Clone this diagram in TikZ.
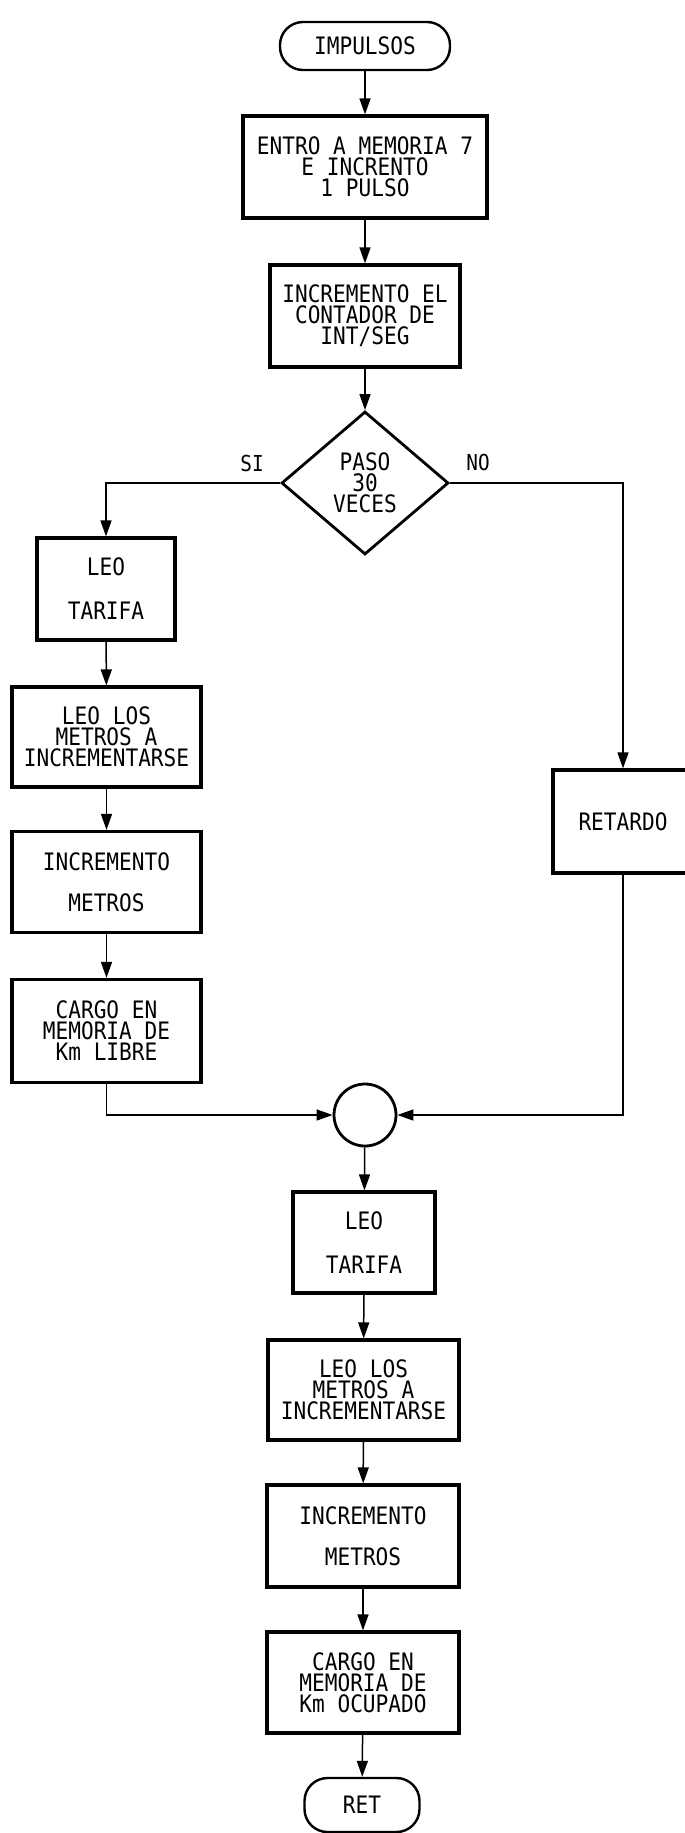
\documentclass[tikz,border=0pt]{standalone}
\usepackage{fontspec}
\newfontfamily\plotfont[FakeStretch=0.88]{DejaVu Sans Mono}
\usetikzlibrary{shapes.geometric,arrows.meta}
\begin{document}
\begin{tikzpicture}[x=1pt,y=-1pt,
  every node/.style={font=\plotfont\fontsize{24}{21}\selectfont, align=center, inner sep=0pt},
  procbox/.style={draw, line width=3.2pt, rectangle, minimum width=#1, minimum height=102pt},
  procbox/.default=190pt,
  termbox/.style={draw, line width=2.4pt, rectangle, rounded corners=23pt},
  decbox/.style={draw, line width=2.8pt, diamond, minimum width=167pt, minimum height=143pt},
  joinbox/.style={draw, line width=2.8pt, circle, minimum size=62pt},
  arr/.style={line width=1.5pt, -{Triangle[length=16pt,width=11pt]}},
  lbl/.style={font=\plotfont\fontsize{22}{20}\selectfont}
]
\useasboundingbox (0,0) rectangle (685,1833);
\fill[white] (0,0) rectangle (685,1833);

% main column top
\node[termbox, minimum width=170pt, minimum height=48pt] (start) at (365,46) {IMPULSOS};
\node[procbox=244pt] (b1) at (365,167) {ENTRO A MEMORIA 7\\E INCRENTO\\1 PULSO};
\node[procbox=190pt] (b2) at (365,316) {INCREMENTO EL\\CONTADOR DE\\INT/SEG};
\node[decbox] (dec) at (365,483) {PASO\\30\\VECES};

\node[lbl] (si) at (252,463) {SI};
\node[lbl] (no) at (478,462) {NO};

% left branch
\node[procbox=138pt] (l1) at (106,589) {LEO\\[23pt]TARIFA};
\node[procbox=189pt, minimum height=100pt] (l2) at (106.5,737) {LEO LOS\\METROS A\\INCREMENTARSE};
\node[procbox=189pt, minimum height=101pt] (l3) at (106.5,882) {INCREMENTO\\[20pt]METROS};
\node[procbox=189pt, minimum height=103pt] (l4) at (106.5,1031) {CARGO EN\\MEMORIA DE\\Km LIBRE};

% right branch
\node[procbox=140pt, minimum height=103pt] (ret) at (623,821.5) {RETARDO};

% join
\node[joinbox] (join) at (365,1115) {};

% lower column
\node[procbox=142pt, minimum height=101pt] (m1) at (364,1242.5) {LEO\\[23pt]TARIFA};
\node[procbox=191pt, minimum height=100pt] (m2) at (363.5,1390) {LEO LOS\\METROS A\\INCREMENTARSE};
\node[procbox=192pt, minimum height=102pt] (m3) at (363,1536) {INCREMENTO\\[20pt]METROS};
\node[procbox=192pt, minimum height=101pt] (m4) at (363,1682.5) {CARGO EN\\MEMORIA DE\\Km OCUPADO};
\node[termbox, minimum width=115pt, minimum height=54pt] (stop) at (362,1805) {RET};

% connectors
\draw[arr] (start) -- (b1);
\draw[arr] (b1) -- (b2);
\draw[arr] (b2) -- (dec);
\draw[arr] (dec.west) -| (l1.north);
\draw[arr] (dec.east) -| (ret.north);
\draw[arr] (l1) -- (l2);
\draw[arr] (l2) -- (l3);
\draw[arr] (l3) -- (l4);
\draw[arr] (l4.south) |- (join.west);
\draw[arr] (ret.south) |- (join.east);
\draw[arr] (join) -- (m1);
\draw[arr] (m1) -- (m2);
\draw[arr] (m2) -- (m3);
\draw[arr] (m3) -- (m4);
\draw[arr] (m4) -- (stop);
\end{tikzpicture}
\end{document}
